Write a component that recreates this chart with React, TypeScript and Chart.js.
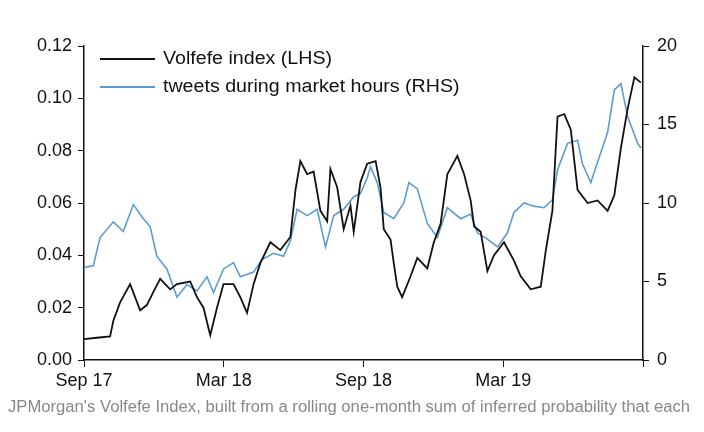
import React, { useEffect, useRef } from "react";
import { Chart, registerables } from "chart.js";
Chart.register(...registerables);

const volfefeMonths = [0,0.55,1.12,1.26,1.55,1.98,2.41,2.70,2.98,3.27,3.70,3.99,4.56,4.85,5.13,5.42,5.71,5.99,6.42,6.71,7.0,7.28,7.57,8.0,8.43,8.86,9.08,9.29,9.58,9.86,10.15,10.44,10.58,10.87,11.15,11.44,11.58,11.87,12.16,12.52,12.73,12.87,13.16,13.30,13.45,13.66,14.02,14.31,14.74,15.02,15.31,15.60,16.03,16.32,16.60,16.75,17.03,17.32,17.60,18.03,18.46,18.75,19.18,19.61,19.83,20.11,20.33,20.62,20.90,21.19,21.62,22.05,22.48,22.77,23.05,23.34,23.63,23.91];
const volfefeValues = [0.008,0.0085,0.009,0.015,0.022,0.029,0.019,0.021,0.026,0.031,0.027,0.029,0.030,0.024,0.020,0.0095,0.020,0.029,0.029,0.024,0.018,0.029,0.037,0.045,0.042,0.047,0.065,0.076,0.071,0.072,0.057,0.053,0.073,0.066,0.050,0.059,0.049,0.068,0.075,0.076,0.066,0.050,0.046,0.037,0.028,0.024,0.032,0.039,0.035,0.045,0.052,0.071,0.078,0.071,0.061,0.051,0.049,0.034,0.040,0.045,0.038,0.032,0.027,0.028,0.042,0.057,0.093,0.094,0.088,0.065,0.060,0.061,0.057,0.063,0.081,0.096,0.108,0.106];

const tweetMonths = [0,0.4,0.69,1.26,1.69,2.12,2.55,2.84,3.13,3.56,3.99,4.42,4.85,5.28,5.56,5.99,6.42,6.71,7.28,7.64,8.14,8.57,8.86,9.15,9.58,10.01,10.37,10.72,11.15,11.58,11.87,12.16,12.30,12.59,12.87,13.30,13.73,13.95,14.31,14.74,15.17,15.60,16.17,16.60,16.89,17.32,17.75,18.18,18.46,18.89,19.32,19.75,20.11,20.33,20.76,21.19,21.40,21.76,22.05,22.48,22.77,23.05,23.34,23.77,23.91];
const tweetValues = [5.9,6.0,7.8,8.8,8.2,9.9,9.0,8.5,6.6,5.8,4.0,4.8,4.4,5.3,4.3,5.8,6.2,5.3,5.6,6.4,6.8,6.6,7.6,9.6,9.2,9.6,7.2,9.2,9.6,10.4,10.6,11.6,12.3,11.3,9.4,9.0,10.0,11.3,10.9,8.7,7.8,9.7,9.0,9.3,8.1,7.7,7.2,8.1,9.4,10.0,9.8,9.7,10.2,12.1,13.8,14.0,12.5,11.3,12.6,14.5,17.2,17.6,15.5,13.8,13.5];

const xTickLabels: Record<number, string> = { 0: "Sep 17", 6: "Mar 18", 12: "Sep 18", 18: "Mar 19", 24: "" };
const leftTicks = [0, 0.02, 0.04, 0.06, 0.08, 0.1, 0.12];
const rightTicks = [0, 5, 10, 15, 20];

const BLUE = "#5b9bd5";
const FONT = "'Liberation Sans', Arial, sans-serif";

export default function App() {
  const ref = useRef<HTMLCanvasElement>(null);
  useEffect(() => {
    const font = { family: FONT, size: 18 };
    const chart = new Chart(ref.current!, {
      type: "line",
      data: {
        datasets: [
          { label: "Volfefe index (LHS)", data: volfefeMonths.map((m, i) => ({ x: m, y: volfefeValues[i] })), borderColor: "#111", borderWidth: 1.8, pointRadius: 0, yAxisID: "y", tension: 0 },
          { label: "tweets during market hours (RHS)", data: tweetMonths.map((m, i) => ({ x: m, y: tweetValues[i] })), borderColor: BLUE, borderWidth: 1.6, pointRadius: 0, yAxisID: "y2", tension: 0 },
        ],
      },
      options: {
        animation: false,
        responsive: false,
        layout: { padding: { top: 46, right: 0, left: 0, bottom: 0 } },
        plugins: { legend: { display: false }, tooltip: { enabled: false } },
        scales: {
          x: {
            type: "linear", min: 0, max: 24,
            afterBuildTicks: (s: any) => { s.ticks = [0, 6, 12, 18, 24].map((v) => ({ value: v })); },
            ticks: { color: "#111", font, callback: (v: any) => xTickLabels[v] ?? "", maxRotation: 0, autoSkip: false },
            grid: { drawOnChartArea: false, color: "#111", tickLength: 7 },
            border: { color: "#111", width: 1.5 },
            afterFit: (s: any) => { s.height = 40; },
          },
          y: {
            position: "left", min: 0, max: 0.12,
            afterBuildTicks: (s: any) => { s.ticks = leftTicks.map((v) => ({ value: v })); },
            ticks: { color: "#111", font, callback: (v: any) => Number(v).toFixed(2), padding: 6 },
            grid: { drawOnChartArea: false, color: "#111", tickLength: 6 },
            border: { color: "#111", width: 1.5 },
            afterFit: (s: any) => { s.width = 84; },
          },
          y2: {
            position: "right", min: 0, max: 20,
            afterBuildTicks: (s: any) => { s.ticks = rightTicks.map((v) => ({ value: v })); },
            ticks: { color: "#111", font, padding: 8 },
            grid: { drawOnChartArea: false, color: "#111", tickLength: 6 },
            border: { color: "#111", width: 1.5 },
            afterFit: (s: any) => { s.width = 61; },
          },
        },
      },
    });
    return () => chart.destroy();
  }, []);

  const legendItem = (color: string, text: string, top: number) => (
    <div style={{ position: "absolute", left: 100, top, display: "flex", alignItems: "center", fontFamily: FONT, fontSize: 18, color: "#111" }}>
      <div style={{ width: 55, height: 2, background: color, marginRight: 8 }} />
      <span style={{ display: "inline-block", transform: "scaleX(1.09)", transformOrigin: "left center" }}>{text}</span>
    </div>
  );

  return (
    <div style={{ position: "fixed", left: 0, top: 0, width: 704, height: 432, background: "#fff" }}>
      <canvas ref={ref} width={704} height={400} />
      {legendItem("#111", "Volfefe index (LHS)", 48)}
      {legendItem(BLUE, "tweets during market hours (RHS)", 76)}
      <div style={{ position: "absolute", left: 8, top: 398, fontFamily: FONT, fontSize: 16, color: "#888", whiteSpace: "nowrap", transform: "scaleX(1.04)", transformOrigin: "left center" }}>
        JPMorgan's Volfefe Index, built from a rolling one-month sum of inferred probability that each
      </div>
    </div>
  );
}
